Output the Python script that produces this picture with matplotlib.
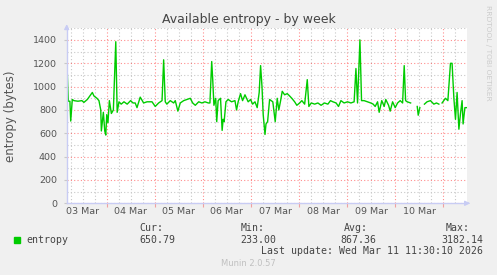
import numpy as np
import matplotlib
matplotlib.use("Agg")
from matplotlib import pyplot as plt

#----------------------------Data----------------------------------------------#
# hours since the left edge of the graph
hours = [0.0, 0.8, 1.6, 2.0, 2.8, 3.6, 5.6, 7.6, 8.6, 10.3, 12.8, 13.6, 15.1,
         16.1, 17.0, 17.3, 18.3, 19.0, 19.5, 20.0, 20.6, 21.3, 22.3, 23.3,
         24.5, 25.2, 26.1, 27.2, 28.6, 30.2, 31.9, 33.1, 34.2, 35.1, 36.7,
         38.4, 40.1, 42.6, 44.2, 45.9, 47.6, 48.4, 49.2, 50.0, 51.7, 53.4,
         54.2, 55.5, 56.7, 58.4, 60.0, 61.7, 62.9, 64.2, 65.9, 67.5, 69.0,
         70.7, 71.5, 72.4, 72.9, 73.5, 74.4, 74.9, 75.6, 76.8, 77.6, 78.1,
         78.6, 79.5, 80.6, 82.3, 84.0, 84.8, 85.6, 86.8, 87.8, 89.0, 90.6,
         91.8, 92.8, 94.0, 95.1, 96.1, 96.8, 97.5, 98.1, 99.0, 99.5, 100.3,
         101.3, 102.1, 102.9, 104.1, 105.1, 105.9, 106.8, 107.6, 108.8, 110.1,
         111.3, 112.4, 113.8, 114.9, 116.3, 117.4, 118.8, 120.1, 120.9, 122.1,
         123.8, 125.4, 127.0, 128.7, 130.4, 131.7, 132.9, 134.5, 135.7, 136.9,
         138.5, 140.2, 141.9, 143.5, 144.4, 145.2, 146.4, 147.2, 148.5, 150.2,
         151.8, 153.0, 154.0, 155.2, 156.0, 157.3, 158.5, 159.3, 160.7, 161.5,
         162.7, 164.0, 165.2, 166.5, 167.7, 168.5, 169.2, 170.0, 171.7, 172.0,
         175.0, 175.5, 176.3, 176.8, 178.6, 179.9, 181.6, 183.3, 184.6, 185.8,
         186.5, 187.4, 189.1, 190.3, 191.6, 192.4, 193.3, 194.1, 194.9, 195.8,
         196.6, 197.4, 197.9, 198.8, 199.6]
nan = np.nan
entropy = [1260, 875, 875, 705, 890, 880, 875, 880, 865, 890, 950, 920, 900,
           880, 800, 620, 780, 620, 585, 760, 690, 880, 770, 800,
           1385, 780, 870, 850, 870, 850, 880, 860, 860, 820, 910,
           860, 870, 870, 830, 860, 880, 1230, 870, 850, 880, 860,
           880, 790, 860, 880, 890, 900, 860, 840, 870, 860, 870,
           860, 860, 1215, 1060, 840, 900, 700, 880, 900, 625, 720,
           700, 870, 890, 870, 880, 800, 870, 940, 880, 930, 870,
           890, 850, 870, 820, 950, 1180, 1000, 760, 590, 680, 700,
           890, 880, 870, 700, 900, 800, 880, 960, 930, 940,
           920, 900, 870, 840, 860, 880, 850, 1060, 830, 860,
           850, 860, 840, 860, 850, 880, 870, 860, 830, 880,
           860, 870, 860, 870, 1155, 860, 1400, 880, 880, 870,
           860, 850, 830, 870, 780, 880, 830, 890, 840, 790,
           870, 820, 860, 880, 860, 1180, 880, 870, 860, nan,
           830, 755, 820, nan, 850, 870, 880, 850, 860, 850,
           nan, 860, 900, 880, 1200, 1200, 900, 720, 950, 635,
           770, 880, 680, 820, 820]

day_labels = ['03 Mar', '04 Mar', '05 Mar', '06 Mar', '07 Mar', '08 Mar',
              '09 Mar', '10 Mar']
first_line = 20  # first red day line, in hours
y_ticks = [0, 200, 400, 600, 800, 1000, 1200, 1400]

legend_cur = '650.79'
legend_min = '233.00'
legend_avg = '867.36'
legend_max = '3182.14'
last_update = 'Last update: Wed Mar 11 11:30:10 2026'

#----------------------------Style---------------------------------------------#
W, H = 497, 275
bg = '#F0F0F0'
line_green = '#00CC00'
axis_col = '#C8CCF4'
text_col = '#555555'

fig = plt.figure(figsize=(W / 100, H / 100), dpi=100, facecolor=bg)
ax = fig.add_axes([66.7 / W, 1 - 203.3 / H, 400.6 / W, 175.0 / H])
ax.set_facecolor('white')

ax.plot(hours, entropy, color=line_green, lw=1.0)
ax.set_xlim(0, 200)
ax.set_ylim(0, 1500)

# grids
day_lines = [first_line + 24 * k for k in range(len(day_labels))]
six_hours = [h for h in range(2, 200, 6) if h not in day_lines]
ax.set_xticks(day_lines)
ax.set_xticks(six_hours, minor=True)
ax.set_xticklabels([])
ax.set_yticks(y_ticks)
ax.set_yticks([v for v in range(100, 1600, 200)], minor=True)
dots = (0, (1, 2))
ax.grid(which='major', color='#FF0000', alpha=0.45, ls=dots, lw=0.8)
ax.grid(which='minor', color='#C8C8C8', ls=dots, lw=0.8)
ax.set_axisbelow(True)

ax.tick_params(axis='x', which='major', length=3, color='#F0A0A0', width=0.8)
ax.tick_params(axis='x', which='minor', length=0)
ax.tick_params(axis='y', which='major', length=2, color='#C8C8C8',
               labelsize=6.8, labelcolor=text_col, pad=5)
ax.tick_params(axis='y', which='minor', length=0)

for s in ['top', 'right']:
    ax.spines[s].set_visible(False)
for s in ['left', 'bottom']:
    ax.spines[s].set_color(axis_col)
    ax.spines[s].set_linewidth(1.0)

# axis arrows
ax.annotate('', xy=(0, 1.04), xytext=(0, 0.99), xycoords='axes fraction',
            arrowprops=dict(arrowstyle='-|>', color=axis_col, lw=1.0,
                            mutation_scale=7), annotation_clip=False)
ax.annotate('', xy=(1.014, 0), xytext=(0.995, 0), xycoords='axes fraction',
            arrowprops=dict(arrowstyle='-|>', color=axis_col, lw=1.0,
                            mutation_scale=7), annotation_clip=False)

# day labels sit half a day before each red line
sec = ax.secondary_xaxis('bottom')
sec.set_xticks([d - 12 for d in day_lines], day_labels)
sec.tick_params(length=0, labelsize=6.8, labelcolor=text_col, pad=3)
sec.spines['bottom'].set_visible(False)

ax.set_ylabel('entropy (bytes)', fontsize=8.5, color=text_col)
ax.yaxis.set_label_coords(-(66.7 - 17.5) / 400.6, 0.5)

#----------------------------Texts---------------------------------------------#
def px(x, y):
    return x / W, 1 - y / H

fig.text(*px(248.5, 19.5), 'Available entropy - by week', ha='center',
         va='center', fontsize=9, color='#444444')
fig.text(*px(488, 5), 'RRDTOOL / TOBI OETIKER', rotation=270, ha='center',
         va='top', fontsize=5.4, color='#CCCCCC')

mono = dict(family='DejaVu Sans Mono', fontsize=7.1, color='#444444',
            va='center')
fig.patches.append(plt.Rectangle(px(14, 242.5), 6 / W, 6 / H,
                                 transform=fig.transFigure,
                                 color=line_green))
fig.text(*px(26, 240), 'entropy', ha='left', **mono)
for label, value, xr, xv in [('Cur:', legend_cur, 163, 175),
                             ('Min:', legend_min, 265, 276),
                             ('Avg:', legend_avg, 368, 376),
                             ('Max:', legend_max, 470, 483)]:
    fig.text(*px(xr, 228), label, ha='right', **mono)
    fig.text(*px(xv, 240), value, ha='right', **mono)
fig.text(*px(483, 251.5), last_update, ha='right', **mono)
fig.text(*px(248, 264), 'Munin 2.0.57', ha='center', va='center',
         fontsize=6, color='#C0C0C0')

fig.savefig('out.png', dpi=100, facecolor=bg)
